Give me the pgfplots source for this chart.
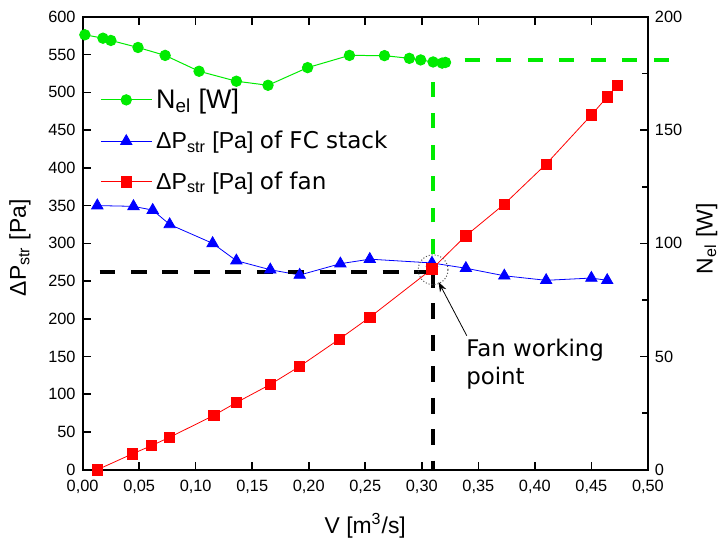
\documentclass[border=0pt]{standalone}
\usepackage{fontspec}
\setmainfont{Liberation Sans}
\newfontfamily\dv{DejaVu Sans}
\usepackage{pgfplots}
\pgfplotsset{compat=1.18}
\usetikzlibrary{arrows.meta}
\definecolor{ngreen}{RGB}{0,235,0}

\begin{document}
\begin{tikzpicture}
\pgfplotsset{
  every axis/.append style={
    scale only axis,
    width=284pt,
    height=227.5pt,
    xmin=0, xmax=0.5,
    axis line style={line width=0.9pt},
    every tick/.style={line width=0.8pt, black},
    major tick length=4pt,
    minor tick length=3pt,
    tick align=inside,
    tick label style={font=\fontsize{8.2}{9}\selectfont},
    label style={font=\fontsize{11.5}{13}\selectfont},
    /pgf/number format/assume math mode=true,
  },
}
\begin{axis}[
  ymin=0, ymax=600,
  xtick distance=0.05,
  ytick distance=50,
  xtick pos=both,
  ytick pos=left,
  xticklabel style={yshift=-1.5pt, /pgf/number format/.cd, fixed, fixed zerofill, precision=2, use comma},
  xlabel={V [m\textsuperscript{3}/s]},
  ylabel={ΔP\textsubscript{str} [Pa]},
  xlabel style={at={(axis description cs:0.5,-0.123)}, anchor=center},
  ylabel style={at={(axis description cs:-0.111,0.49)}, anchor=center},
  clip=false,
  legend cell align=left,
  legend style={draw=none, fill=none, at={(0.02,0.86)}, anchor=north west,
    font=\fontsize{11.6}{13}\selectfont, row sep=6pt,
    /tikz/every even column/.append style={column sep=2pt}},
  legend image code/.code={\draw[mark repeat=2, mark phase=2] plot coordinates {(0cm,0cm) (0.45cm,0cm) (0.9cm,0cm)};},
]
\addlegendimage{ngreen, line width=0.5pt, mark=*, mark size=2.6pt}
\addlegendentry{\fontsize{13.5}{15}\selectfont N\textsubscript{el} [W]}

\addplot[blue, line width=0.4pt, mark=triangle*, mark size=3.3pt] coordinates {
  (0.013,350) (0.045,349) (0.062,344) (0.077,325) (0.115,300) (0.136,277)
  (0.166,265) (0.192,258) (0.228,273) (0.254,279) (0.309,274) (0.339,267)
  (0.373,257) (0.410,251) (0.450,254) (0.464,251)
};
\addlegendentry{ΔP\textsubscript{str} [Pa] {\dv of FC stack}}

\addplot[red, line width=0.4pt, mark=square*, mark size=2.6pt] coordinates {
  (0.013,0) (0.044,21) (0.061,32) (0.077,43) (0.116,72) (0.136,89)
  (0.166,113) (0.192,137) (0.227,173) (0.254,202) (0.309,266) (0.339,310)
  (0.373,352) (0.410,405) (0.450,470) (0.464,494) (0.473,509)
};
\addlegendentry{ΔP\textsubscript{str} [Pa] {\dv of fan}}

% working point guides
\draw[black, line width=2pt, dash pattern=on 8pt off 7.8pt] (axis cs:0.015,262) -- (axis cs:0.31,262);
\draw[black, line width=2pt, dash pattern=on 8pt off 7.8pt] (axis cs:0.31,262) -- (axis cs:0.31,0);
\draw[ngreen, line width=1.8pt, dash pattern=on 7.5pt off 8.3pt] (axis cs:0.31,286) -- (axis cs:0.31,543);
\draw[ngreen, line width=1.8pt, dash pattern=on 7.5pt off 8.35pt] (axis cs:0.338,543) -- (axis cs:0.519,543);
\draw[densely dotted, black!70, line width=0.5pt] (axis cs:0.31,265) circle[radius=7.5pt];
\draw[-{Stealth[length=5pt,width=3.5pt]}, line width=0.4pt] (axis cs:0.3398,177.6) -- (axis cs:0.3148,248.8);
\node[anchor=north west, inner sep=0pt, align=left, font=\dv\fontsize{11.5}{13.8}\selectfont]
  at (axis cs:0.339,173) {Fan working\\point};
\end{axis}

\begin{axis}[
  ymin=0, ymax=200,
  axis x line=none,
  axis y line*=right,
  ytick pos=right,
  ytick distance=50,
  minor y tick num=1,
  ylabel={N\textsubscript{el} [W]},
  ylabel style={at={(axis description cs:1.104,0.51)}, anchor=center},
]
\addplot[ngreen, line width=0.5pt, mark=*, mark size=2.6pt] coordinates {
  (0.002,192.1) (0.018,190.6) (0.025,189.6) (0.049,186.5) (0.073,183.0)
  (0.103,176.0) (0.136,171.6) (0.164,169.8) (0.199,177.6) (0.236,183.0)
  (0.267,182.9) (0.289,181.7) (0.299,181.0) (0.310,180.1) (0.318,179.6)
  (0.321,179.9)
};
\end{axis}

\path ([shift={(-41.5pt,-35.5pt)}]current axis.south west) rectangle ([shift={(36.5pt,8.5pt)}]current axis.north east);
\end{tikzpicture}
\end{document}
